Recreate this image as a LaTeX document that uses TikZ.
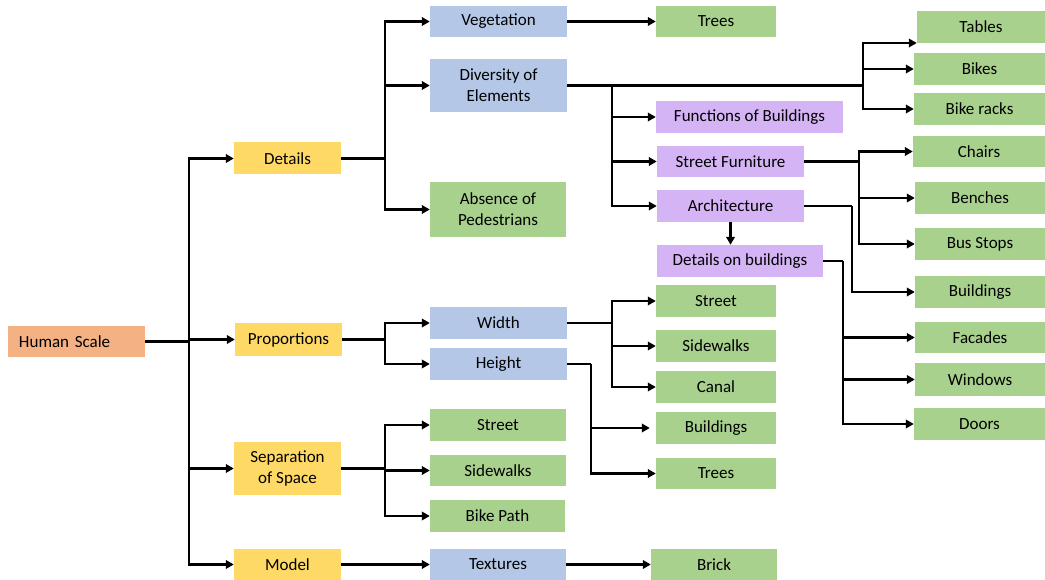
\documentclass[tikz,border=0pt]{standalone}
\usepackage{fontspec}
\setmainfont{Carlito}
\usetikzlibrary{arrows.meta}
\definecolor{cRoot}{HTML}{F4B183}
\definecolor{cYel}{HTML}{FFD966}
\definecolor{cBlue}{HTML}{B4C7E7}
\definecolor{cGreen}{HTML}{A9D18E}
\definecolor{cPurp}{HTML}{D5B4F6}
\begin{document}
\begin{tikzpicture}[x=1pt,y=-1pt,
  box/.style={rectangle, inner sep=2pt, align=center, text=black,
    font=\fontsize{17}{21}\selectfont},
  root/.style={box, fill=cRoot},
  lvl/.style={box, fill=cYel},
  sub/.style={box, fill=cBlue},
  leaf/.style={box, fill=cGreen},
  feat/.style={box, fill=cPurp},
  link/.style={line width=2.1pt, black},
  arr/.style={link, -{Triangle[length=8pt,width=8.5pt]}},
]
\useasboundingbox (0,0) rectangle (1045,580);

% root and first level
\node[root, minimum width=137pt, minimum height=31pt, text width=115pt, inner xsep=11pt, align=left] (hs) at (76.5,341.5) {Human Scale};
\node[lvl, minimum width=107pt, minimum height=32pt] (det) at (287.5,158.5) {Details};
\node[lvl, minimum width=107pt, minimum height=32pt] (prop) at (288.5,339.5) {Proportions};
\node[lvl, minimum width=107pt, minimum height=53pt] (sep) at (287.5,468.5) {Separation\\of Space};
\node[lvl, minimum width=107pt, minimum height=31pt] (model) at (287.5,564.5) {Model};

% details branch
\node[sub, minimum width=137pt, minimum height=31pt] (veg) at (498.5,21.5) {Vegetation};
\node[sub, minimum width=137pt, minimum height=53pt] (div) at (498.5,85.5) {Diversity of\\Elements};
\node[leaf, minimum width=136pt, minimum height=55pt] (abs) at (498,209.5) {Absence of\\Pedestrians};
\node[leaf, minimum width=120pt, minimum height=31pt] (treesA) at (716,21.5) {Trees};

\node[leaf, minimum width=128pt, minimum height=32pt] (tables) at (981,27) {Tables};
\node[leaf, minimum width=131pt, minimum height=32pt] (bikes) at (979.5,69) {Bikes};
\node[leaf, minimum width=131pt, minimum height=32pt] (racks) at (979.5,109) {Bike racks};

\node[feat, minimum width=187pt, minimum height=32pt] (func) at (749.5,117) {Functions of Buildings};
\node[feat, minimum width=147pt, minimum height=31pt] (sf) at (730.5,161.5) {Street Furniture};
\node[feat, minimum width=147pt, minimum height=32pt] (arch) at (730.5,206) {Architecture};
\node[feat, minimum width=166pt, minimum height=32pt] (dob) at (740,261) {Details on buildings};

\node[leaf, minimum width=132pt, minimum height=31pt] (chairs) at (979,151.5) {Chairs};
\node[leaf, minimum width=130pt, minimum height=32pt] (benches) at (980,198) {Benches};
\node[leaf, minimum width=130pt, minimum height=32pt] (bus) at (980,244) {Bus Stops};
\node[leaf, minimum width=130pt, minimum height=32pt] (bldgR) at (980,292) {Buildings};
\node[leaf, minimum width=130pt, minimum height=31pt] (facades) at (980,337.5) {Facades};
\node[leaf, minimum width=130pt, minimum height=33pt] (windows) at (980,379.5) {Windows};
\node[leaf, minimum width=131pt, minimum height=32pt] (doors) at (979.5,424) {Doors};

% proportions branch
\node[sub, minimum width=137pt, minimum height=32pt] (wid) at (498.5,323) {Width};
\node[sub, minimum width=137pt, minimum height=32pt] (hei) at (498.5,364) {Height};
\node[leaf, minimum width=120pt, minimum height=32pt] (streetA) at (716,301) {Street};
\node[leaf, minimum width=120pt, minimum height=32pt] (sideA) at (716,346) {Sidewalks};
\node[leaf, minimum width=120pt, minimum height=32pt] (canal) at (716,387) {Canal};
\node[leaf, minimum width=120pt, minimum height=32pt] (bldgA) at (716,428) {Buildings};
\node[leaf, minimum width=120pt, minimum height=31pt] (treesB) at (716,473.5) {Trees};

% separation branch
\node[leaf, minimum width=136pt, minimum height=32pt] (streetB) at (498,425) {Street};
\node[leaf, minimum width=136pt, minimum height=31pt] (sideB) at (498,470.5) {Sidewalks};
\node[leaf, minimum width=135pt, minimum height=32pt] (bpath) at (497.5,516) {Bike Path};

% model branch
\node[sub, minimum width=136pt, minimum height=31pt] (tex) at (498,564.5) {Textures};
\node[leaf, minimum width=126pt, minimum height=31pt] (brick) at (714,564.5) {Brick};

% junction points of the connectors
\coordinate (jA) at (189,341.5);
\coordinate (jB) at (385,158.5);
\coordinate (jC) at (863,85.5);
\coordinate (jD) at (612,85.5);
\coordinate (jE) at (859,161.5);
\coordinate (jF) at (852,206);
\coordinate (jG) at (843,261);
\coordinate (jH) at (385,339.5);
\coordinate (jI) at (612,323);
\coordinate (jJ) at (591,364);
\coordinate (jK) at (385,468.5);

% root
\draw[link] (hs) -- (jA);
\draw[arr] (jA) |- (det);
\draw[arr] (jA) |- (prop);
\draw[arr] (jA) |- (sep);
\draw[arr] (jA) |- (model);

% details
\draw[link] (det) -- (jB);
\draw[arr] (jB) |- (veg);
\draw[arr] (jB) |- (div);
\draw[arr] (jB) |- (abs);
\draw[arr] (veg) -- (treesA);

\draw[link] (div) -- (jC);
\draw[arr] (jC) |- ([yshift=-16pt]tables.west);
\draw[arr] (jC) |- (bikes);
\draw[arr] (jC) |- (racks);
\draw[arr] (jD) |- (func);
\draw[arr] (jD) |- (sf);
\draw[arr] (jD) |- (arch);

\draw[link] (sf) -- (jE);
\draw[arr] (jE) |- (chairs);
\draw[arr] (jE) |- (benches);
\draw[arr] (jE) |- (bus);

\draw[link] (arch) -- (jF);
\draw[arr] (jF) |- (bldgR);
\draw[arr, line width=2.8pt] (arch.south) -- (arch.south |- dob.north);

\draw[link] (dob) -- (jG);
\draw[arr] (jG) |- (facades);
\draw[arr] (jG) |- (windows);
\draw[arr] (jG) |- (doors);

% proportions
\draw[link] (prop) -- (jH);
\draw[arr] (jH) |- (wid);
\draw[arr] (jH) |- (hei);
\draw[link] (wid) -- (jI);
\draw[arr] (jI) |- (streetA);
\draw[arr] (jI) |- (sideA);
\draw[arr] (jI) |- (canal);
\draw[link] (hei) -- (jJ);
\draw[arr, shorten >=6pt] (jJ) |- (bldgA);
\draw[arr] (jJ) |- (treesB);

% separation of space
\draw[link] (sep) -- (jK);
\draw[arr] (jK) |- (streetB);
\draw[arr] (jK) |- (sideB);
\draw[arr] (jK) |- (bpath);

% model
\draw[arr] (model) -- (tex);
\draw[arr] (tex) -- (brick);
\end{tikzpicture}
\end{document}
